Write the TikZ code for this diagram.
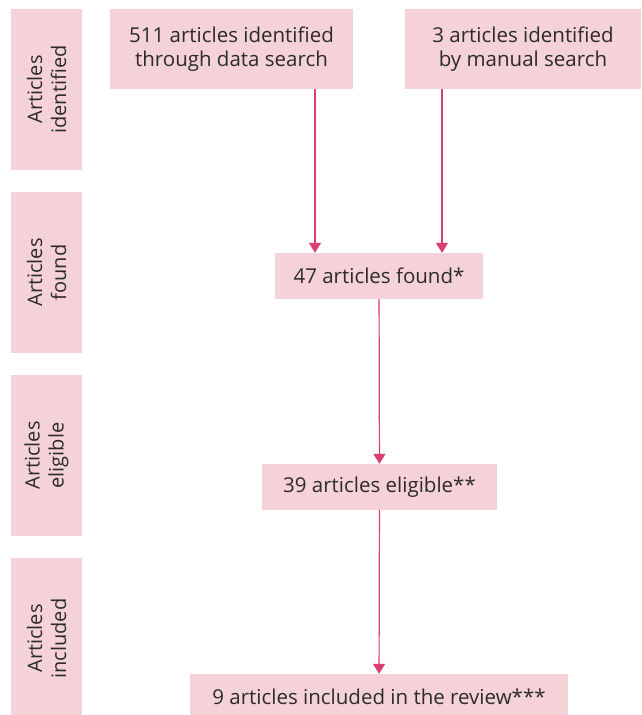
\documentclass[tikz,border=0pt]{standalone}
\usepackage{fontspec}
\setmainfont{Open Sans}
\usepackage{tikz}
\usetikzlibrary{arrows.meta,positioning}
\definecolor{softpink}{RGB}{245,210,215}
\definecolor{flowred}{RGB}{217,64,111}
\definecolor{inkgray}{RGB}{43,43,43}

\begin{document}
\begin{tikzpicture}[x=1pt, y=-1pt, >={Triangle[width=12pt,length=10pt]},
  stagebox/.style={fill=softpink, text=inkgray, rotate=90, minimum width=161pt, minimum height=71pt, align=center, inner sep=0pt, font=\fontsize{20}{24}\selectfont},
  countbox/.style={fill=softpink, text=inkgray, align=center, inner sep=0pt, font=\fontsize{20.5}{24.5}\selectfont},
  flow/.style={->, draw=flowred, fill=flowred, line width=1.2pt}]
  \useasboundingbox (0,0) rectangle (641,715);
  % stage labels on the left
  \node[stagebox] (s1) at (46.5,89.5) {Articles\\identified};
  \node[stagebox] (s2) at (46.5,272.5) {Articles\\found};
  \node[stagebox] (s3) at (46.5,455.5) {Articles\\eligible};
  \node[stagebox] (s4) at (46.5,638.5) {Articles\\included};
  % counts
  \node[countbox, minimum width=243pt, minimum height=80pt] (data) at (231.5,49) {511 articles identified\\through data search};
  \node[countbox, minimum width=236pt, minimum height=80pt] (manual) at (523,49) {3 articles identified\\by manual search};
  \node[countbox, minimum width=208pt, minimum height=46pt] (found) at (379,276) {47 articles found*};
  \node[countbox, minimum width=235pt, minimum height=46pt] (eligible) at (379.5,487) {39 articles eligible**};
  \node[countbox, minimum width=378pt, minimum height=46pt] (included) at (379,697) {9 articles included in the review***};
  % arrows
  \draw[flow] (data.south -| 315,0) -- (found.north -| 315,0);
  \draw[flow] (manual.south -| 442,0) -- (found.north -| 442,0);
  \draw[flow] (found) -- (eligible);
  \draw[flow] (eligible) -- (included);
\end{tikzpicture}
\end{document}
